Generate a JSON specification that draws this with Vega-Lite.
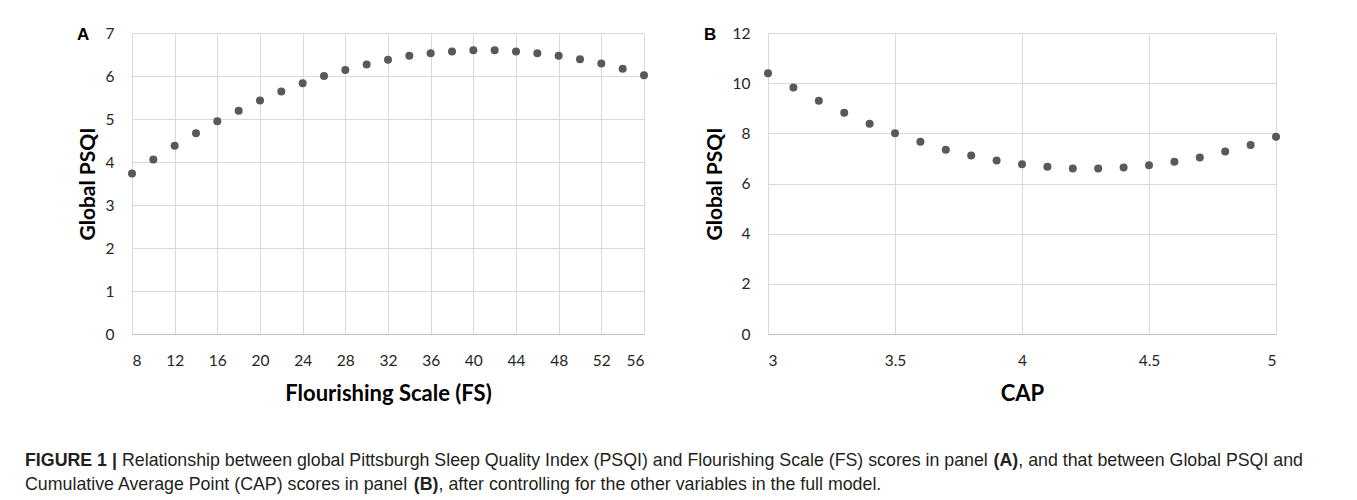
{
  "$schema": "https://vega.github.io/schema/vega-lite/v6.json",
  "padding": {"left": 25, "top": 26, "right": 5, "bottom": 5},
  "background": "white",
  "config": {
    "view": {"stroke": null},
    "font": "Lato",
    "axis": {
      "grid": true, "gridColor": "#d9d9d9", "gridWidth": 1,
      "ticks": false, "tickSize": 0, "domain": false,
      "labelFont": "Lato", "labelFontSize": 15.5, "labelColor": "#262626",
      "titleFont": "Lato", "titleFontWeight": "bold", "titleColor": "#000000"
    },
    "axisX": {"labelPadding": 19, "titlePadding": 15, "titleFontSize": 22, "domain": true, "domainColor": "#bfbfbf"},
    "axisY": {"labelPadding": 18, "titlePadding": 7, "titleFontSize": 21},
    "title": {"font": "Liberation Sans", "fontSize": 17, "fontWeight": "bold", "color": "#000000"},
    "text": {"font": "Liberation Sans", "fontSize": 17.8, "color": "#231f20", "align": "left", "baseline": "middle"}
  },
  "bounds": "flush",
  "spacing": 416,
  "vconcat": [
    {
      "spacing": 56,
      "hconcat": [
        {
          "width": 512, "height": 301,
          "title": {"text": "A", "anchor": "start", "frame": "bounds", "baseline": "middle", "offset": 0, "dy": 26},
          "data": {"values": [
            {"fs": 8, "psqi": 3.73}, {"fs": 10, "psqi": 4.06}, {"fs": 12, "psqi": 4.38}, {"fs": 14, "psqi": 4.67},
            {"fs": 16, "psqi": 4.95}, {"fs": 18, "psqi": 5.19}, {"fs": 20, "psqi": 5.43}, {"fs": 22, "psqi": 5.64},
            {"fs": 24, "psqi": 5.83}, {"fs": 26, "psqi": 6.00}, {"fs": 28, "psqi": 6.14}, {"fs": 30, "psqi": 6.27},
            {"fs": 32, "psqi": 6.38}, {"fs": 34, "psqi": 6.47}, {"fs": 36, "psqi": 6.53}, {"fs": 38, "psqi": 6.57},
            {"fs": 40, "psqi": 6.60}, {"fs": 42, "psqi": 6.60}, {"fs": 44, "psqi": 6.57}, {"fs": 46, "psqi": 6.53},
            {"fs": 48, "psqi": 6.47}, {"fs": 50, "psqi": 6.39}, {"fs": 52, "psqi": 6.29}, {"fs": 54, "psqi": 6.17},
            {"fs": 56, "psqi": 6.02}
          ]},
          "mark": {"type": "circle", "size": 64, "color": "#595959", "opacity": 1},
          "encoding": {
            "x": {"field": "fs", "type": "quantitative", "scale": {"domain": [8, 56], "nice": false, "zero": false},
                  "axis": {"values": [8, 12, 16, 20, 24, 28, 32, 36, 40, 44, 48, 52, 56], "title": "Flourishing Scale (FS)"}},
            "y": {"field": "psqi", "type": "quantitative", "scale": {"domain": [0, 7], "nice": false},
                  "axis": {"values": [0, 1, 2, 3, 4, 5, 6, 7], "title": "Global PSQI"}}
          }
        },
        {
          "width": 508, "height": 301,
          "title": {"text": "B", "anchor": "start", "frame": "bounds", "baseline": "middle", "offset": 0, "dy": 26},
          "data": {"values": [
            {"cap": 3.0, "psqi": 10.40}, {"cap": 3.1, "psqi": 9.83}, {"cap": 3.2, "psqi": 9.30}, {"cap": 3.3, "psqi": 8.82},
            {"cap": 3.4, "psqi": 8.38}, {"cap": 3.5, "psqi": 8.00}, {"cap": 3.6, "psqi": 7.66}, {"cap": 3.7, "psqi": 7.35},
            {"cap": 3.8, "psqi": 7.12}, {"cap": 3.9, "psqi": 6.92}, {"cap": 4.0, "psqi": 6.77}, {"cap": 4.1, "psqi": 6.67},
            {"cap": 4.2, "psqi": 6.60}, {"cap": 4.3, "psqi": 6.60}, {"cap": 4.4, "psqi": 6.64}, {"cap": 4.5, "psqi": 6.73},
            {"cap": 4.6, "psqi": 6.87}, {"cap": 4.7, "psqi": 7.04}, {"cap": 4.8, "psqi": 7.28}, {"cap": 4.9, "psqi": 7.53},
            {"cap": 5.0, "psqi": 7.86}
          ]},
          "mark": {"type": "circle", "size": 64, "color": "#595959", "opacity": 1},
          "encoding": {
            "x": {"field": "cap", "type": "quantitative", "scale": {"domain": [3, 5], "nice": false, "zero": false},
                  "axis": {"values": [3, 3.5, 4, 4.5, 5], "format": "~g", "title": "CAP"}},
            "y": {"field": "psqi", "type": "quantitative", "scale": {"domain": [0, 12], "nice": false},
                  "axis": {"values": [0, 2, 4, 6, 8, 10, 12], "title": "Global PSQI"}}
          }
        }
      ]
    },
    {
      "width": 1200, "height": 48,
      "data": {"values": [
        {"line": 1, "seg": "s1", "text": "FIGURE 1 |"},
        {"line": 1, "seg": "s2", "text": "Relationship between global Pittsburgh Sleep Quality Index (PSQI) and Flourishing Scale (FS) scores in panel"},
        {"line": 1, "seg": "s3", "text": "(A)"},
        {"line": 1, "seg": "s4", "text": ", and that between Global PSQI and"},
        {"line": 2, "seg": "s5", "text": "Cumulative Average Point (CAP) scores in panel"},
        {"line": 2, "seg": "s6", "text": "(B)"},
        {"line": 2, "seg": "s7", "text": ", after controlling for the other variables in the full model."}
      ]},
      "encoding": {
        "y": {"field": "line", "type": "ordinal", "axis": null},
        "text": {"field": "text"}
      },
      "layer": [
        {"transform": [{"filter": "datum.seg == 's1'"}], "mark": {"type": "text", "x": 0, "dx": -107, "fontWeight": "bold"}},
        {"transform": [{"filter": "datum.seg == 's2'"}], "mark": {"type": "text", "x": 0, "dx": -10}},
        {"transform": [{"filter": "datum.seg == 's3'"}], "mark": {"type": "text", "x": 0, "dx": 861.6, "fontWeight": "bold"}},
        {"transform": [{"filter": "datum.seg == 's4'"}], "mark": {"type": "text", "x": 0, "dx": 886.3}},
        {"transform": [{"filter": "datum.seg == 's5'"}], "mark": {"type": "text", "x": 0, "dx": -107}},
        {"transform": [{"filter": "datum.seg == 's6'"}], "mark": {"type": "text", "x": 0, "dx": 281.8, "fontWeight": "bold"}},
        {"transform": [{"filter": "datum.seg == 's7'"}], "mark": {"type": "text", "x": 0, "dx": 306.5}}
      ]
    }
  ]
}
